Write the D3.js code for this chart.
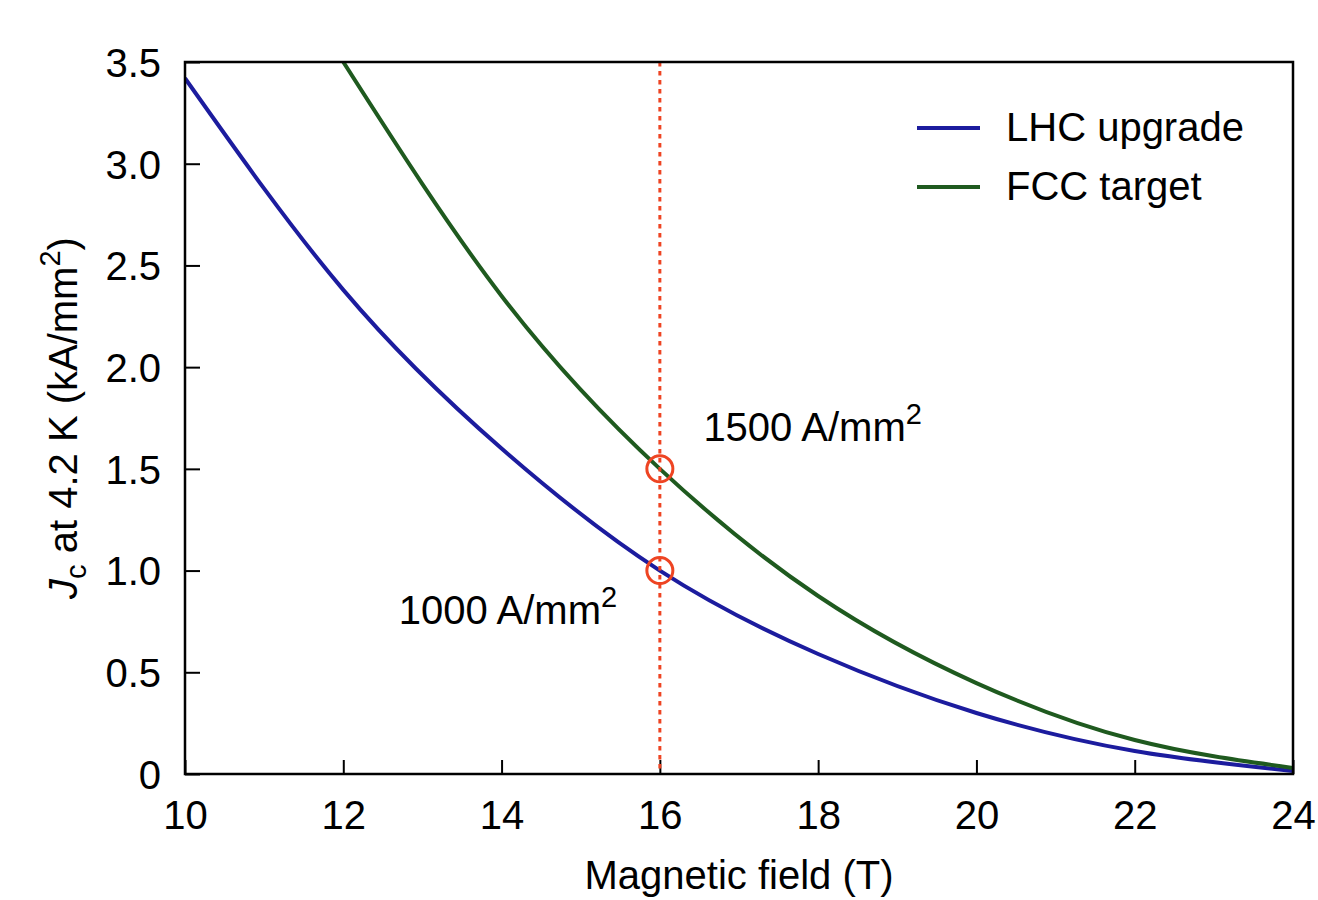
<!DOCTYPE html>
<html>
<head>
<meta charset="utf-8">
<script src="https://d3js.org/d3.v7.min.js"></script>
<style>
  body { margin: 0; background: #fff; }
  text { font-family: "Liberation Sans", Arial, sans-serif; fill: #000; }
</style>
</head>
<body>
<svg id="chart"></svg>
<script>
// data
var fields = [10, 12, 14, 16, 18, 20, 22, 24];
var lhcJc = [3.42, 2.38, 1.60, 1.00, 0.59, 0.30, 0.113, 0.015];
var fccFields = [12, 14, 16, 18, 20, 22, 24];
var fccJc = [3.5, 2.35, 1.5, 0.875, 0.447, 0.167, 0.03];
var seriesNames = ["LHC upgrade", "FCC target"];
var seriesColors = ["#1c1c9e", "#1f5a1f"];
var xTicks = [10, 12, 14, 16, 18, 20, 22, 24];
var yTicks = [0, 0.5, 1, 1.5, 2, 2.5, 3, 3.5];
var yTickLabels = ["0", "0.5", "1.0", "1.5", "2.0", "2.5", "3.0", "3.5"];
var markField = 16;
var markJc = [1.0, 1.5];
var markLabels = ["1000 A/mm", "1500 A/mm"];

var svg = d3.select("#chart").attr("width", 1318).attr("height", 900),
    margin = {top: 62, right: 25, bottom: 126, left: 185},
    width = +svg.attr("width") - margin.left - margin.right,
    height = +svg.attr("height") - margin.top - margin.bottom;

var fontSize = 40;
var red = "#ee4422";

var xScale = d3.scaleLinear().domain([10, 24]).range([0, width]);
var yScale = d3.scaleLinear().domain([0, 3.5]).range([height, 0]);

var g = svg.append("g")
	.attr("transform", "translate(" + margin.left + "," + margin.top + ")");

g.append("clipPath")
	.attr("id", "clip")
	.append("rect")
		.attr("width", width)
		.attr("height", height);

// axes, ticks pointing inward
var bottomAxis = g.append("g")
	.attr("transform", "translate(0," + height + ")")
	.call(d3.axisBottom(xScale).tickValues(xTicks).tickSize(-14).tickPadding(24).tickFormat(d3.format("d")));

var leftAxis = g.append("g")
	.call(d3.axisLeft(yScale).tickValues(yTicks).tickSize(-15).tickPadding(24)
		.tickFormat(function(d, i){ return yTickLabels[i]; }));

[bottomAxis, leftAxis].forEach(function(ax){
	ax.select(".domain").remove();
	ax.selectAll(".tick line").attr("stroke", "#000").attr("stroke-width", 2);
	ax.selectAll(".tick text")
		.style("font-family", "Liberation Sans, Arial, sans-serif")
		.style("font-size", fontSize + "px")
		.attr("fill", "#000");
});
bottomAxis.selectAll(".tick text").attr("dy", "0.71em").attr("y", 27);
leftAxis.selectAll(".tick text").attr("dy", "0.36em");

// curves
var line = d3.line()
	.x(function(d){ return xScale(d[0]); })
	.y(function(d){ return yScale(d[1]); })
	.curve(d3.curveNatural);

var curves = [
	fields.map(function(f, i){ return [f, lhcJc[i]]; }),
	fccFields.map(function(f, i){ return [f, fccJc[i]]; })
];

g.append("g")
	.attr("clip-path", "url(#clip)")
	.selectAll("path")
	.data(curves)
	.enter()
	.append("path")
		.attr("d", line)
		.attr("fill", "none")
		.attr("stroke", function(d, i){ return seriesColors[i]; })
		.attr("stroke-width", 4);

// dotted marker line and circles
g.append("line")
	.attr("x1", xScale(markField))
	.attr("x2", xScale(markField))
	.attr("y1", 0)
	.attr("y2", height)
	.attr("stroke", red)
	.attr("stroke-width", 3)
	.attr("stroke-dasharray", "4.5,4.5");

g.selectAll(".mark")
	.data(markJc)
	.enter()
	.append("circle")
		.attr("class", "mark")
		.attr("cx", xScale(markField))
		.attr("cy", function(d){ return yScale(d); })
		.attr("r", 13)
		.attr("fill", "none")
		.attr("stroke", red)
		.attr("stroke-width", 3);

// annotations
var annPos = [[12.7, 0.735], [16.55, 1.635]];
markLabels.forEach(function(t, i){
	var txt = g.append("text")
		.attr("x", xScale(annPos[i][0]))
		.attr("y", yScale(annPos[i][1]))
		.style("font-size", fontSize + "px");
	txt.append("tspan").text(t);
	txt.append("tspan").attr("dy", -17).style("font-size", "29px").text("2");
});

// border
g.append("rect")
	.attr("width", width)
	.attr("height", height)
	.attr("fill", "none")
	.attr("stroke", "#000")
	.attr("stroke-width", 2.5);

// legend
var legend = g.selectAll(".legend")
	.data(seriesNames)
	.enter()
	.append("g")
		.attr("class", "legend")
		.attr("transform", function(d, i){ return "translate(" + (917 - margin.left) + "," + (128 - margin.top + i * 59) + ")"; });

legend.append("line")
	.attr("x1", 0)
	.attr("x2", 63)
	.attr("stroke", function(d, i){ return seriesColors[i]; })
	.attr("stroke-width", 4);

legend.append("text")
	.attr("x", 89)
	.attr("y", 13)
	.style("font-size", fontSize + "px")
	.text(function(d){ return d; });

// axis titles
g.append("text")
	.attr("x", width / 2)
	.attr("y", height + 115)
	.attr("text-anchor", "middle")
	.style("font-size", fontSize + "px")
	.text("Magnetic field (T)");

var yTitle = g.append("g")
	.attr("transform", "translate(" + (77 - margin.left) + "," + (height / 2) + ")")
	.append("text")
		.attr("transform", "rotate(-90)")
		.attr("text-anchor", "middle")
		.style("font-size", fontSize + "px");
yTitle.append("tspan").style("font-style", "italic").text("J");
yTitle.append("tspan").attr("dy", 9).style("font-size", "29px").text("c");
yTitle.append("tspan").attr("dy", -9).text(" at 4.2 K (kA/mm");
yTitle.append("tspan").attr("dy", -17).style("font-size", "29px").text("2");
yTitle.append("tspan").attr("dy", 17).text(")");
</script>
</body>
</html>
